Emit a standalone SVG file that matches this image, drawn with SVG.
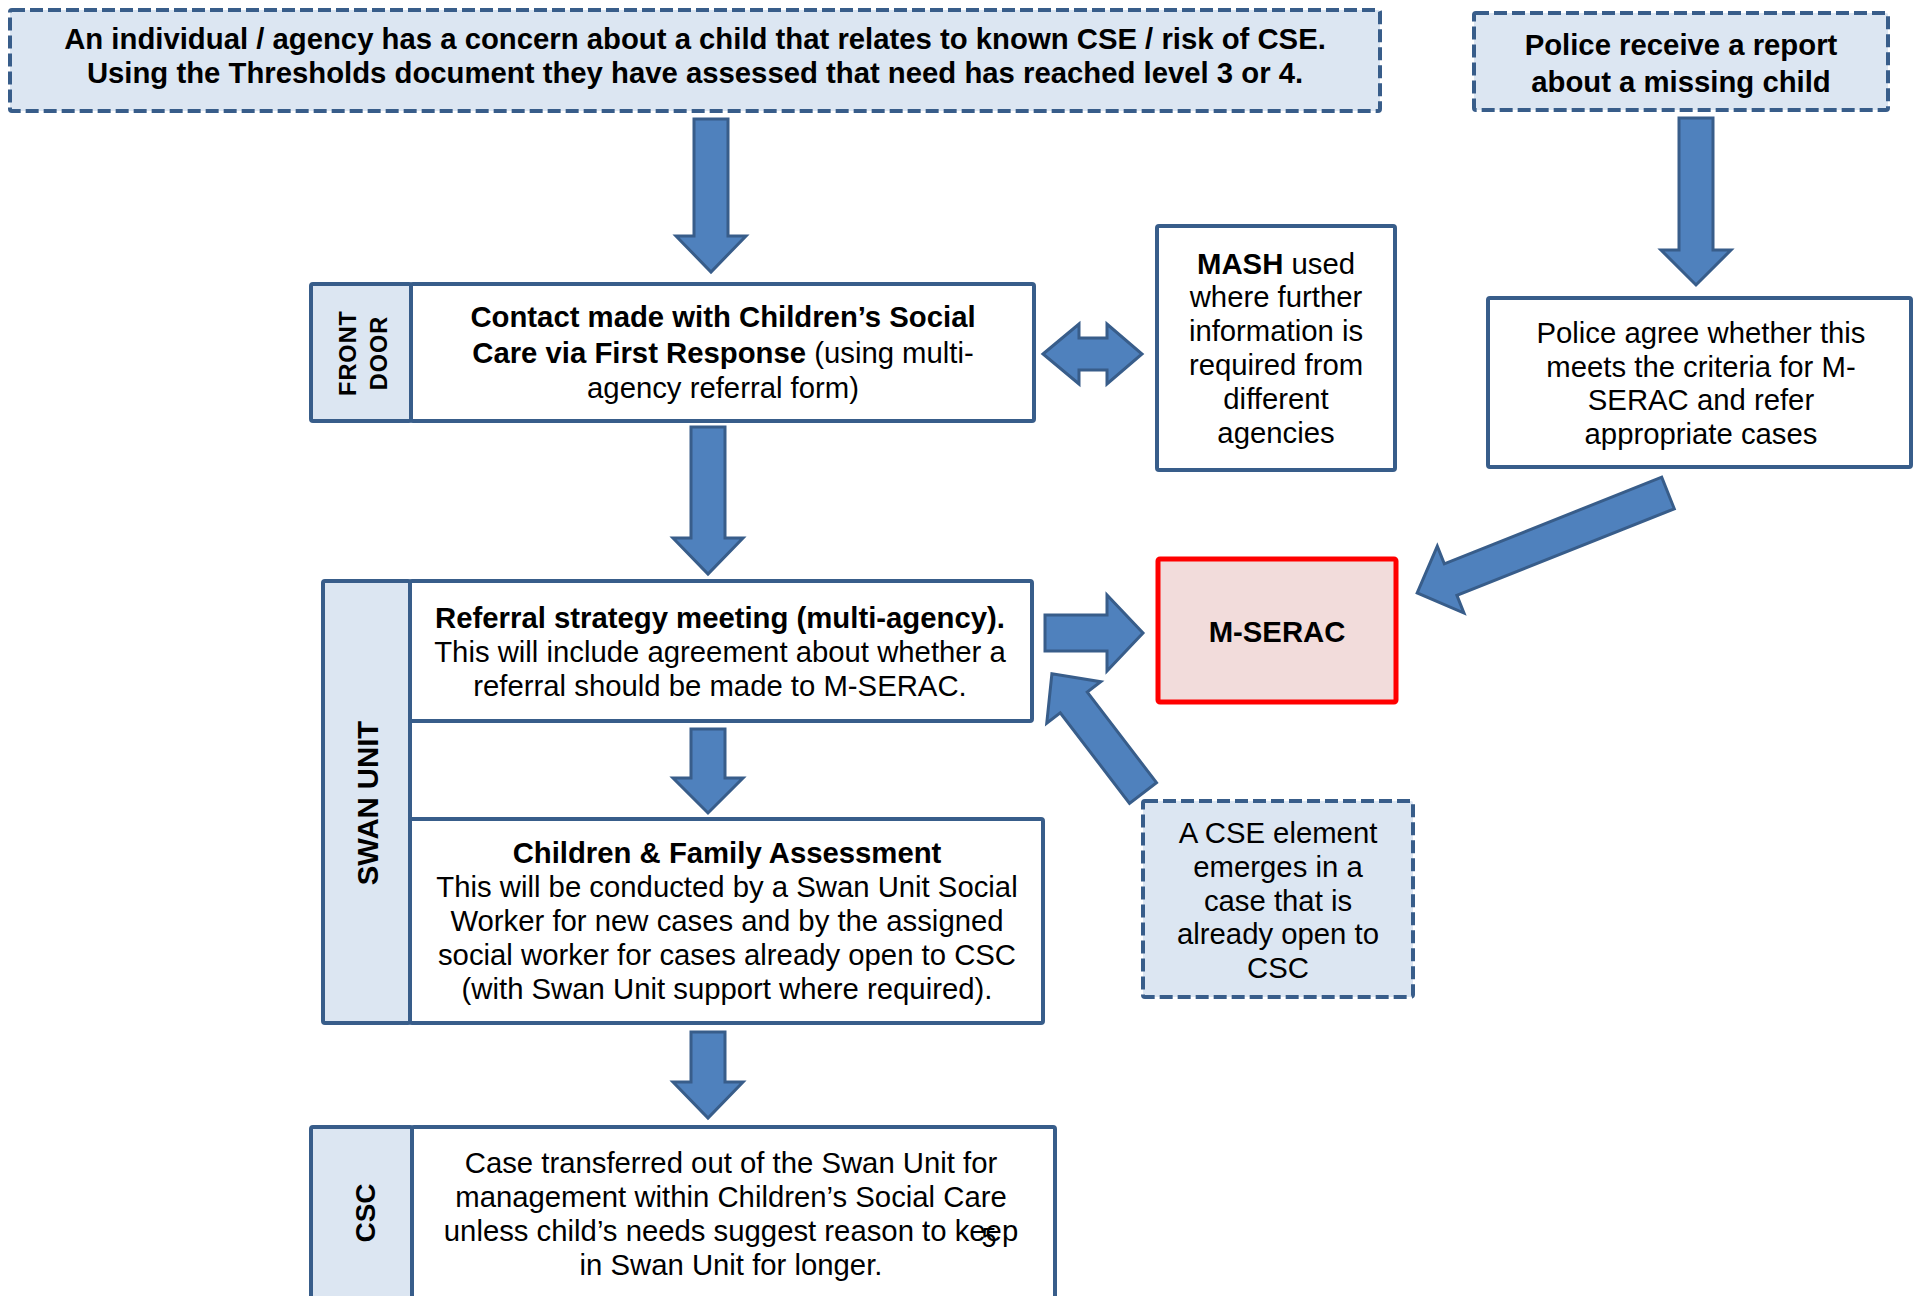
<svg xmlns="http://www.w3.org/2000/svg" width="1914" height="1296" viewBox="0 0 1914 1296">
<style>
.box{fill:#fff;stroke:#385D8A;stroke-width:4}
.lab{fill:#DCE6F2;stroke:#385D8A;stroke-width:4}
.dash{fill:#DCE6F2;stroke:#385D8A;stroke-width:4;stroke-dasharray:13 5}
.red{fill:#F2DCDB;stroke:#FF0000;stroke-width:5}
.arr{fill:#4F81BD;stroke:#385D8A;stroke-width:3;stroke-linejoin:miter}
text{font-family:"Liberation Sans",Arial,sans-serif;font-size:29.3px;fill:#000}
.b{font-weight:bold}
.c{text-anchor:middle}
</style>
<rect width="1914" height="1296" fill="#fff"/>
<g id="connectors">
  <path class="arr" transform="translate(711,119) rotate(90)" d="M0,-17 H117 V-35 L153,0 L117,35 V17 H0 Z"/>
  <path class="arr" transform="translate(708,427) rotate(90)" d="M0,-17 H111 V-35 L147,0 L111,35 V17 H0 Z"/>
  <path class="arr" transform="translate(708,729) rotate(90)" d="M0,-17 H49 V-35 L84,0 L49,35 V17 H0 Z"/>
  <path class="arr" transform="translate(708,1032) rotate(90)" d="M0,-17 H50 V-35 L86,0 L50,35 V17 H0 Z"/>
  <path class="arr" transform="translate(1696,118) rotate(90)" d="M0,-17 H132 V-35 L167,0 L132,35 V17 H0 Z"/>
  <path class="arr" transform="translate(1045,633)" d="M0,-18 H62 V-38 L98,0 L62,38 V18 H0 Z"/>
  <path class="arr" transform="translate(1668,493) rotate(158.28)" d="M0,-17 H234 V-36 L270,0 L234,36 V17 H0 Z"/>
  <path class="arr" transform="translate(1143,793) rotate(-127.4)" d="M0,-17 H114 V-34 L150,0 L114,34 V17 H0 Z"/>
  <path class="arr" d="M1043,354 L1079,324 L1079,338 L1107,338 L1107,324 L1142,354 L1107,384 L1107,370 L1079,370 L1079,384 Z"/>
</g>
<g id="concern">
  <rect class="dash" x="10" y="10" width="1370" height="101" rx="2"/>
  <text class="b c" x="695" y="49">An individual / agency has a concern about a child that relates to known CSE / risk of CSE.</text>
  <text class="b c" x="695" y="83">Using the Thresholds document they have assessed that need has reached level 3 or 4.</text>
</g>
<g id="police-report">
  <rect class="dash" x="1474" y="13" width="414" height="97" rx="2"/>
  <text class="b c" x="1681" y="55">Police receive a report</text>
  <text class="b c" x="1681" y="92">about a missing child</text>
</g>
<g id="front-door">
  <rect class="lab" x="311" y="284" width="100" height="137" rx="2"/>
  <text class="b c" transform="translate(356,353) rotate(-90)" style="font-size:23.5px;letter-spacing:1px">FRONT</text>
  <text class="b c" transform="translate(387,353) rotate(-90)" style="font-size:23.5px;letter-spacing:1px">DOOR</text>
</g>
<g id="contact">
  <rect class="box" x="411" y="284" width="623" height="137" rx="2"/>
  <text class="b c" x="723" y="327">Contact made with Children’s Social</text>
  <text class="c" x="723" y="363"><tspan class="b">Care via First Response</tspan> (using multi-</text>
  <text class="c" x="723" y="398">agency referral form)</text>
</g>
<g id="mash">
  <rect class="box" x="1157" y="226" width="238" height="244" rx="2"/>
  <text class="c" x="1276" y="274"><tspan class="b">MASH</tspan> used</text>
  <text class="c" x="1276" y="307">where further</text>
  <text class="c" x="1276" y="341">information is</text>
  <text class="c" x="1276" y="375">required from</text>
  <text class="c" x="1276" y="409">different</text>
  <text class="c" x="1276" y="443">agencies</text>
</g>
<g id="police-agree">
  <rect class="box" x="1488" y="298" width="423" height="169" rx="2"/>
  <text class="c" x="1701" y="343">Police agree whether this</text>
  <text class="c" x="1701" y="377">meets the criteria for M-</text>
  <text class="c" x="1701" y="410">SERAC and refer</text>
  <text class="c" x="1701" y="444">appropriate cases</text>
</g>
<g id="swan-unit">
  <rect class="lab" x="323" y="581" width="87" height="442" rx="2"/>
  <text class="b c" transform="translate(378,803) rotate(-90)">SWAN UNIT</text>
</g>
<g id="referral">
  <rect class="box" x="410" y="581" width="622" height="140" rx="2"/>
  <text class="b c" x="720" y="628">Referral strategy meeting (multi-agency).</text>
  <text class="c" x="720" y="662">This will include agreement about whether a</text>
  <text class="c" x="720" y="696">referral should be made to M-SERAC.</text>
</g>
<g id="m-serac">
  <rect class="red" x="1158" y="559" width="238" height="143" rx="2"/>
  <text class="b c" x="1277" y="642">M-SERAC</text>
</g>
<g id="assessment">
  <rect class="box" x="410" y="819" width="633" height="204" rx="2"/>
  <text class="b c" x="727" y="863">Children &amp; Family Assessment</text>
  <text class="c" x="727" y="897">This will be conducted by a Swan Unit Social</text>
  <text class="c" x="727" y="931">Worker for new cases and by the assigned</text>
  <text class="c" x="727" y="965">social worker for cases already open to CSC</text>
  <text class="c" x="727" y="999">(with Swan Unit support where required).</text>
</g>
<g id="cse-element">
  <rect class="dash" x="1143" y="801" width="270" height="196" rx="2"/>
  <text class="c" x="1278" y="843">A CSE element</text>
  <text class="c" x="1278" y="877">emerges in a</text>
  <text class="c" x="1278" y="911">case that is</text>
  <text class="c" x="1278" y="944">already open to</text>
  <text class="c" x="1278" y="978">CSC</text>
</g>
<g id="csc">
  <rect class="lab" x="311" y="1127" width="101" height="175" rx="2"/>
  <text class="b c" transform="translate(375,1213) rotate(-90)" style="font-size:28px">CSC</text>
</g>
<g id="transfer">
  <rect class="box" x="412" y="1127" width="643" height="175" rx="2"/>
  <text class="c" x="731" y="1173">Case transferred out of the Swan Unit for</text>
  <text class="c" x="731" y="1207">management within Children’s Social Care</text>
  <text class="c" x="731" y="1241">unless child’s needs suggest reason to keep</text>
  <text class="c" x="731" y="1275">in Swan Unit for longer.</text>
  <text class="c" x="989" y="1247" style="font-size:27px">5</text>
</g>
</svg>
